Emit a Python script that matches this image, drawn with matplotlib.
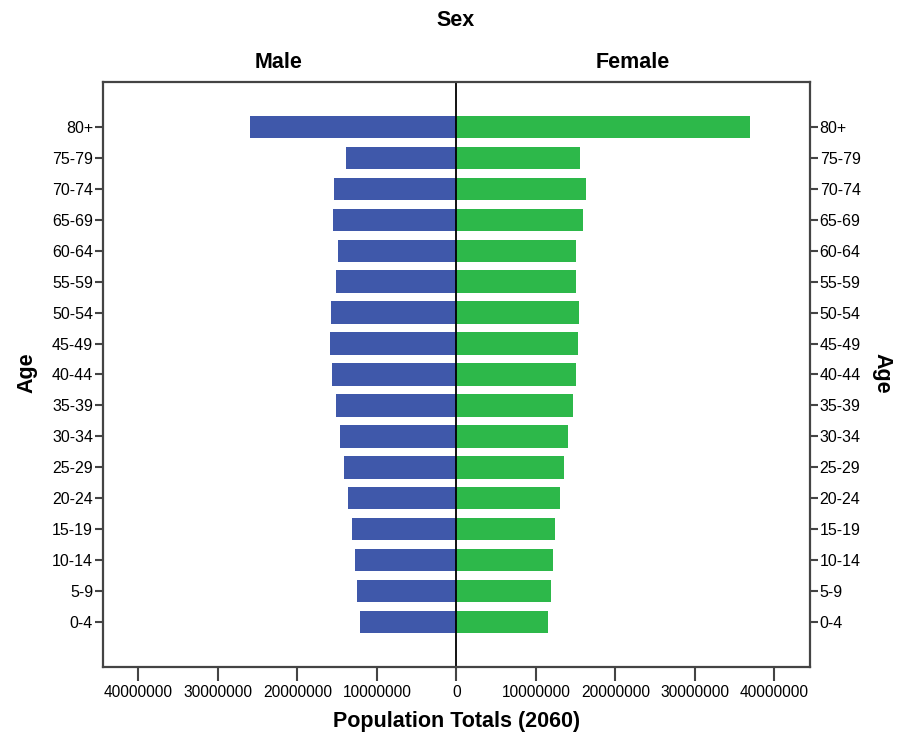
import numpy as np
import matplotlib
matplotlib.use('Agg')
import matplotlib.pyplot as plt
import matplotlib.ticker as ticker

plt.rcParams['font.family'] = ['Liberation Sans', 'DejaVu Sans']

grupos = ['0-4', '5-9', '10-14', '15-19', '20-24', '25-29', '30-34', '35-39',
          '40-44', '45-49', '50-54', '55-59', '60-64', '65-69', '70-74', '75-79', '80+']
hombres = [12100000, 12500000, 12800000, 13100000, 13600000, 14150000, 14700000, 15200000,
           15650000, 15850000, 15750000, 15100000, 14900000, 15500000, 15350000, 13950000, 26000000]
mujeres = [11550000, 11850000, 12200000, 12450000, 13000000, 13550000, 14050000, 14650000,
           15050000, 15350000, 15450000, 15000000, 15050000, 15950000, 16300000, 15550000, 37000000]
xticks = [-40000000, -30000000, -20000000, -10000000, 0, 10000000, 20000000, 30000000, 40000000]

azul = '#3f58aa'
verde = '#2db84a'

fig = plt.figure(figsize=(9.06, 7.38), dpi=100)
ax = fig.add_axes([0.1134, 0.0966, 0.894 - 0.1134, 0.8885 - 0.0966])

y = np.arange(len(grupos))
ax.barh(y, -np.array(hombres), height=0.72, color=azul, edgecolor='none')
ax.barh(y, mujeres, height=0.72, color=verde, edgecolor='none')
ax.axvline(0, color='black', lw=1.3)

ax.set_xlim(-44500000, 44500000)
ax.set_ylim(-1.44, 17.44)

ax.set_xticks(xticks)
ax.xaxis.set_major_formatter(ticker.FuncFormatter(lambda v, p: '%d' % abs(v)))
ax.set_yticks(y)
ax.set_yticklabels(grupos)
ax.tick_params(axis='y', which='both', left=True, right=True, labelleft=True, labelright=True,
               length=6, width=1.5, color='#444444', labelsize=11.5, pad=1)
ax.tick_params(axis='x', length=10, width=1.5, color='#444444', labelsize=11.2, pad=3)

for s in ax.spines.values():
    s.set_color('#444444')
    s.set_linewidth(1.6)

# titulos y etiquetas
tam = 15.5
fig.text(456 / 906, 1 - 20 / 738, 'Sex', ha='center', va='center', fontsize=tam, fontweight='bold')
fig.text(279 / 906, 1 - 63 / 738, 'Male', ha='center', va='center', fontsize=tam, fontweight='bold')
fig.text(633 / 906, 1 - 63 / 738, 'Female', ha='center', va='center', fontsize=tam, fontweight='bold')
fig.text(27 / 906, 1 - 373 / 738, 'Age', ha='center', va='center', rotation=90, fontsize=tam, fontweight='bold')
fig.text(882 / 906, 1 - 373 / 738, 'Age', ha='center', va='center', rotation=270, fontsize=tam, fontweight='bold')
fig.text(457 / 906, 1 - 721 / 738, 'Population Totals (2060)', ha='center', va='center',
         fontsize=tam, fontweight='bold')

plt.savefig('out.png', dpi=100)
